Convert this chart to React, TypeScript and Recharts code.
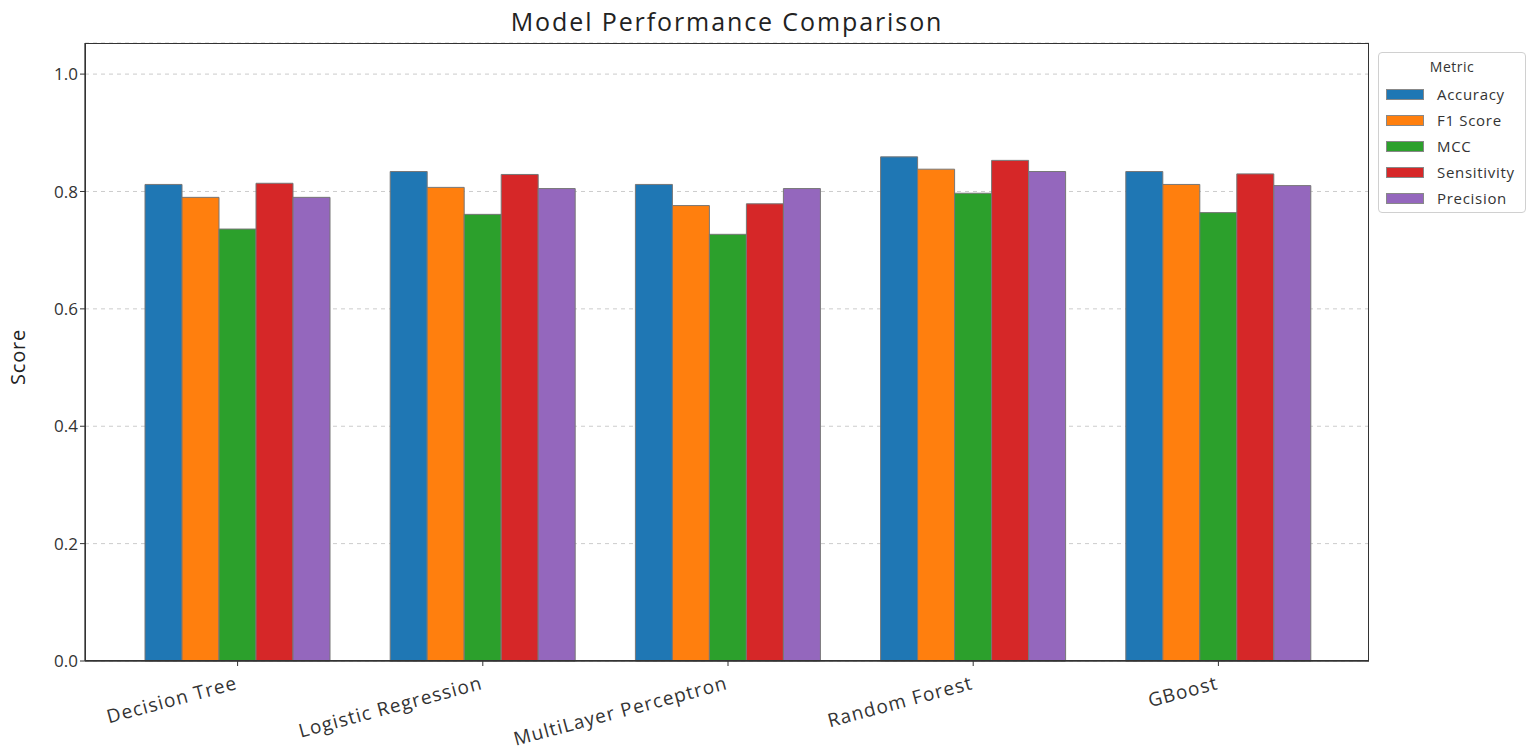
import React from "react";
import { BarChart, Bar, XAxis, YAxis, CartesianGrid } from "recharts";

const models = ["Decision Tree", "Logistic Regression", "MultiLayer Perceptron", "Random Forest", "GBoost"];
const accuracy = [0.812, 0.834, 0.812, 0.859, 0.834];
const f1Score = [0.79, 0.807, 0.776, 0.838, 0.812];
const mcc = [0.736, 0.761, 0.727, 0.797, 0.764];
const sensitivity = [0.814, 0.829, 0.779, 0.853, 0.83];
const precision = [0.79, 0.805, 0.805, 0.834, 0.81];
const yTicks = [0, 0.2, 0.4, 0.6, 0.8, 1.0];

const metrics = [
  { key: "accuracy", name: "Accuracy", color: "#1f77b4", values: accuracy },
  { key: "f1", name: "F1 Score", color: "#ff7f0e", values: f1Score },
  { key: "mcc", name: "MCC", color: "#2ca02c", values: mcc },
  { key: "sensitivity", name: "Sensitivity", color: "#d62728", values: sensitivity },
  { key: "precision", name: "Precision", color: "#9467bd", values: precision },
];

const data = models.map((m, i) => {
  const row: Record<string, string | number> = { model: m };
  metrics.forEach((s) => {
    row[s.key] = s.values[i];
  });
  return row;
});

const FONT = "'Open Sans', Roboto, sans-serif";
const AXIS = "#333";

function ModelTick({ x, y, payload }: any) {
  return (
    <g transform={`translate(${x - 3},${y + 7}) rotate(-15)`}>
      <text
        x={0}
        y={0}
        dy="0.75em"
        textAnchor="end"
        fontSize={19}
        letterSpacing={1.1}
        fill="#333"
        fontFamily={FONT}
      >
        {payload.value}
      </text>
    </g>
  );
}

function MetricLegend() {
  return (
    <div
      style={{
        position: "absolute",
        left: 1378,
        top: 52,
        width: 148,
        height: 161,
        border: "1px solid #d0d0d0",
        borderRadius: 4,
        background: "#fff",
        fontFamily: FONT,
        color: "#333",
        boxSizing: "border-box",
        paddingTop: 4,
      }}
    >
      <div style={{ textAlign: "center", fontSize: 14, letterSpacing: 0.5, marginBottom: 5 }}>Metric</div>
      {metrics.map((m) => (
        <div key={m.key} style={{ display: "flex", alignItems: "center", height: 26 }}>
          <span
            style={{
              display: "inline-block",
              width: 38,
              height: 11,
              marginLeft: 7,
              background: m.color,
              border: "1px solid #888",
              boxSizing: "border-box",
            }}
          />
          <span style={{ marginLeft: 13, fontSize: 15, letterSpacing: 0.7 }}>{m.name}</span>
        </div>
      ))}
    </div>
  );
}

export default function App() {
  return (
    <div style={{ position: "absolute", left: 0, top: 0, width: 1535, height: 754, background: "#fff" }}>
      <div
        style={{
          position: "absolute",
          left: 85,
          width: 1284,
          top: 4,
          textAlign: "center",
          fontFamily: FONT,
          fontSize: 25,
          letterSpacing: 1.9,
          color: "#222",
        }}
      >
        Model Performance Comparison
      </div>
      <BarChart
        width={1535}
        height={754}
        data={data}
        margin={{ top: 43, right: 166, bottom: 0, left: 0 }}
        barCategoryGap={30}
        barGap={0}
      >
        <CartesianGrid vertical={false} stroke="#cccccc" strokeDasharray="4 4" />
        <XAxis
          dataKey="model"
          height={93}
          padding={{ left: 30, right: 28 }}
          tick={<ModelTick />}
          interval={0}
          axisLine={{ stroke: AXIS, strokeWidth: 1.3 }}
          tickLine={{ stroke: AXIS }}
          tickSize={5}
        />
        <YAxis
          width={85}
          domain={[0, 1.053]}
          ticks={yTicks}
          tickFormatter={(v: number) => v.toFixed(1)}
          tick={{ fontSize: 17, fill: "#333", fontFamily: FONT }}
          axisLine={{ stroke: AXIS, strokeWidth: 1.3 }}
          tickLine={{ stroke: AXIS }}
          tickSize={5}
          label={{
            value: "Score",
            angle: -90,
            position: "insideLeft",
            offset: 18,
            dy: 5,
            style: { fontSize: 20, letterSpacing: 0.8, fill: "#222", fontFamily: FONT, textAnchor: "middle" },
          }}
        />
        {metrics.map((m) => (
          <Bar
            key={m.key}
            dataKey={m.key}
            name={m.name}
            fill={m.color}
            stroke="#777"
            strokeWidth={1}
            isAnimationActive={false}
          />
        ))}
      </BarChart>
      {/* plot frame (matplotlib spines) */}
      <div
        style={{
          position: "absolute",
          left: 85,
          top: 43,
          width: 1284,
          height: 618,
          border: `1.3px solid ${AXIS}`,
          boxSizing: "border-box",
          pointerEvents: "none",
        }}
      />
      <MetricLegend />
    </div>
  );
}
